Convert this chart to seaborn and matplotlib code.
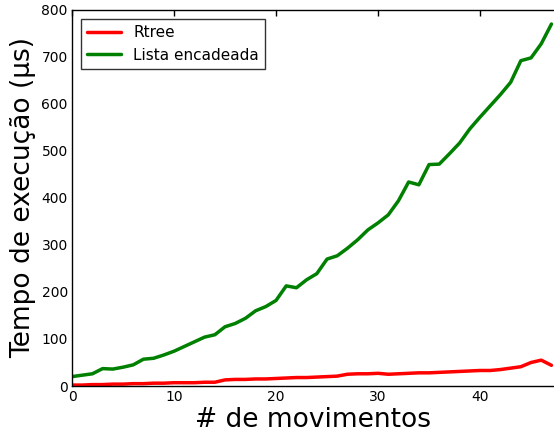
import numpy as np
import pandas as pd
import matplotlib
matplotlib.use("Agg")
import matplotlib.pyplot as plt
import seaborn as sns

# Execution time (µs) per number of moves
movimentos = list(range(48))
rtree = [2, 2, 3, 3, 4, 4, 5, 5, 6, 6, 7, 7, 7, 8, 8, 13, 14, 14, 15, 15,
         16, 17, 18, 18, 19, 20, 21, 25, 26, 26, 27, 25, 26, 27, 28, 28,
         29, 30, 31, 32, 33, 33, 35, 38, 41, 50, 55, 44]
lista = [20, 23, 26, 37, 36, 40, 45, 57, 59, 66, 74, 84, 94, 104, 109, 126,
         133, 144, 160, 169, 182, 213, 209, 226, 239, 270, 277, 293, 311, 332,
         347, 364, 394, 434, 428, 471, 472, 494, 517, 547, 572, 596, 620, 646,
         692, 698, 728, 770]
series_names = ["Rtree", "Lista encadeada"]

df = pd.DataFrame({
    "mov": movimentos * 2,
    "tempo": rtree + lista,
    "serie": [series_names[0]] * len(rtree) + [series_names[1]] * len(lista),
})

sns.set_theme(style="white")
plt.rcParams["font.family"] = ["DejaVu Sans"]
plt.rcParams.update({
    "xtick.direction": "in", "ytick.direction": "in",
    "xtick.top": True, "ytick.right": False,
    "xtick.major.size": 4, "ytick.major.size": 4,
    "xtick.major.width": 1, "ytick.major.width": 1,
    "xtick.color": "black", "ytick.color": "black",
    "xtick.labelcolor": "black", "ytick.labelcolor": "black",
    "axes.labelcolor": "black", "text.color": "black",
    "axes.edgecolor": "black", "axes.linewidth": 1,
})

fig = plt.figure(figsize=(5.54, 4.37), dpi=100)
ax = fig.add_axes([0.13, 0.1167, 0.87, 0.8606])

sns.lineplot(data=df, x="mov", y="tempo", hue="serie",
             palette={"Rtree": "#ff0000", "Lista encadeada": "#008000"},
             linewidth=2.5, ax=ax, legend=True)

ax.set_xlim(0, 47.25)
ax.set_ylim(0, 800)
ax.set_xticks([0, 10, 20, 30, 40])
ax.set_yticks(range(0, 801, 100))
ax.tick_params(labelsize=10, pad=3)
ax.spines["right"].set_visible(False)
ax.set_xlabel("# de movimentos", fontsize=19, labelpad=2)
ax.set_ylabel("Tempo de execução (µs)", fontsize=19, labelpad=4)

leg = ax.legend(loc="upper left", fontsize=11, frameon=True, fancybox=False,
                handlelength=2.2, borderaxespad=0.6, borderpad=0.4)
leg.get_frame().set_edgecolor("black")
leg.get_frame().set_linewidth(1)
for line in leg.get_lines():
    line.set_linewidth(2.5)

fig.savefig("out.png", dpi=100)
